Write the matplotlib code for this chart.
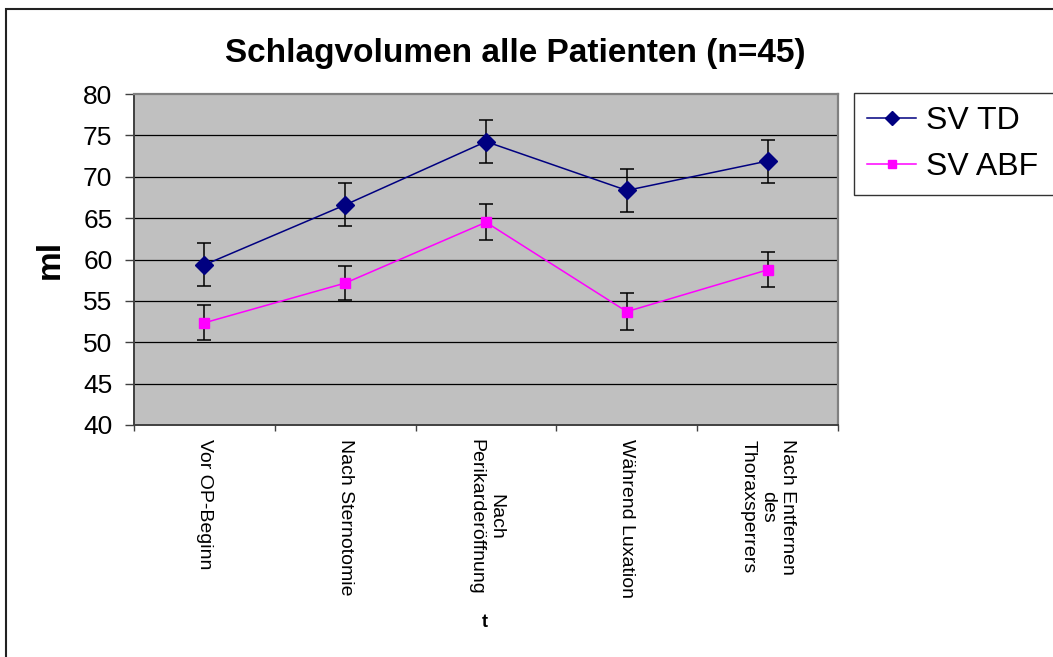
import numpy as np
import matplotlib.pyplot as plt
from matplotlib.patches import Rectangle

plt.rcParams['font.family'] = ['Liberation Sans', 'DejaVu Sans']

categories = ['Vor OP-Beginn', 'Nach Sternotomie', 'Nach\nPerikarderöffnung',
              'Während Luxation', 'Nach Entfernen\ndes\nThoraxsperrers']
svTD = [59.35, 66.6, 74.25, 68.35, 71.9]
svTDErr = [2.6, 2.6, 2.6, 2.6, 2.6]
svABF = [52.35, 57.15, 64.5, 53.7, 58.75]
svABFErr = [2.1, 2.1, 2.2, 2.2, 2.1]
yTicks = [40, 45, 50, 55, 60, 65, 70, 75, 80]

fig = plt.figure(figsize=(10.53, 6.57), dpi=100)
ax = fig.add_axes([134/1053, 1 - 425/657, (838-134)/1053, (425-94)/657])
ax.set_facecolor('#C0C0C0')

x = np.arange(len(categories))

ax.errorbar(x, svTD, yerr=svTDErr, fmt='none', ecolor='black', elinewidth=1.1,
            capsize=5, capthick=1.1, zorder=3)
ax.errorbar(x, svABF, yerr=svABFErr, fmt='none', ecolor='black', elinewidth=1.1,
            capsize=5, capthick=1.1, zorder=3)
ax.plot(x, svTD, color='#000080', marker='D', markersize=9, linewidth=1.1,
        label='SV TD', zorder=4)
ax.plot(x, svABF, color='#FF00FF', marker='s', markersize=7.5, linewidth=1.1,
        label='SV ABF', zorder=4)

ax.set_xlim(-0.5, len(categories) - 0.5)
ax.set_ylim(40, 80)
ax.set_yticks(yTicks)
ax.set_yticklabels([str(t) for t in yTicks], fontsize=19)
for t in yTicks[1:-1]:
    ax.axhline(t, color='black', linewidth=0.9, zorder=1)

ax.set_xticks(x)
ax.set_xticklabels(categories, rotation=270, fontsize=14, multialignment='center')
ax.set_xticks(np.arange(-0.5, len(categories)), minor=True)
ax.tick_params(axis='x', which='major', length=0, pad=10)
ax.tick_params(axis='x', which='minor', length=4, width=1, color='#404040')
ax.tick_params(axis='y', length=6.5, width=1, color='#404040', pad=9)

for side in ['left', 'bottom']:
    ax.spines[side].set_color('#404040')
    ax.spines[side].set_linewidth(1.4)
for side in ['top', 'right']:
    ax.spines[side].set_color('#808080')
    ax.spines[side].set_linewidth(1.6)

fig.text(515/1053, 1 - 62/657, 'Schlagvolumen alle Patienten (n=45)',
         fontsize=24, fontweight='bold', ha='center', va='baseline')
fig.text(50/1053, 1 - 259/657, 'ml', fontsize=24, fontweight='bold',
         rotation=90, ha='center', va='center')
fig.text(485/1053, 1 - 627/657, 't', fontsize=13, fontweight='bold',
         ha='center', va='baseline')

leg = fig.legend(loc='upper left', bbox_to_anchor=(854/1053, 1 - 93/657, 0.2, 0),
                 mode='expand', fontsize=23, frameon=True, fancybox=False,
                 handlelength=1.55, borderpad=0.4, labelspacing=0.5,
                 handletextpad=0.3, borderaxespad=0, markerscale=0.8)
leg.get_frame().set_edgecolor('black')
leg.get_frame().set_linewidth(1.0)

fig.patches.append(Rectangle((6/1053, -0.1), 1.1, 1.1 - 9/657, transform=fig.transFigure,
                             fill=False, edgecolor='#222222', linewidth=1.5))

plt.savefig('out.png', dpi=100)
